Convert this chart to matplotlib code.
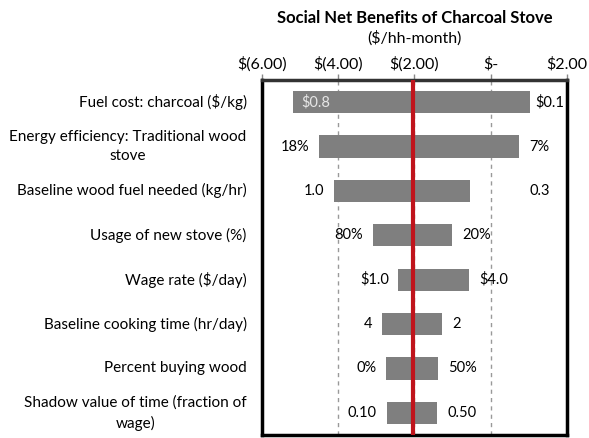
import numpy as np
import matplotlib
matplotlib.use("Agg")
import matplotlib.pyplot as plt
from matplotlib.ticker import FuncFormatter

plt.rcParams['font.family'] = ['Lato', 'DejaVu Sans']

# tornado data, $/hh-month
params = ["Fuel cost: charcoal ($/kg)",
          "Energy efficiency: Traditional wood\nstove",
          "Baseline wood fuel needed (kg/hr)",
          "Usage of new stove (%)",
          "Wage rate ($/day)",
          "Baseline cooking time (hr/day)",
          "Percent buying wood",
          "Shadow value of time (fraction of\nwage)"]
low_val = [-5.18, -4.50, -4.10, -3.10, -2.42, -2.86, -2.75, -2.73]
high_val = [1.03, 0.75, -0.54, -1.01, -0.56, -1.27, -1.37, -1.40]
low_lab = ["$0.8", "18%", "1.0", "80%", "$1.0", "4", "0%", "0.10"]
high_lab = ["$0.1", "7%", "0.3", "20%", "$4.0", "2", "50%", "0.50"]
base_case = -2.05
xticks = [-6, -4, -2, 0, 2]


def money(v, pos=None):
    if abs(v) < 1e-9:
        return "$-"
    if v < 0:
        return f"$({-v:.2f})"
    return f"${v:.2f}"


fig = plt.figure(figsize=(5.89, 4.38), dpi=100)
ax = fig.add_axes([0.4448, 0.0068, 0.5178, 0.8106])

y = np.arange(len(params))
lo = np.array(low_val); hi = np.array(high_val)
ax.barh(y, hi - lo, left=lo, height=0.5, color="#7f7f7f", zorder=2)
ax.axvline(base_case, color="#c0141c", lw=3, zorder=3)

ax.set_xlim(-6, 2)
ax.set_ylim(len(params) - 0.5, -0.5)
ax.set_xticks(xticks)
ax.xaxis.set_major_formatter(FuncFormatter(money))
ax.xaxis.tick_top()
ax.tick_params(axis='x', direction='out', length=4, width=1, color='#888888',
               labelsize=11.5, pad=2)
ax.set_yticks([])
ax.grid(axis='x', ls=(0, (3, 3)), color='#999999', lw=1, zorder=1)
for s in ax.spines.values():
    s.set_linewidth(2.5)
    s.set_color('black')
ax.spines['top'].set_color('#333333')

# parameter names left of the frame
for i, p in enumerate(params):
    ax.annotate(p, (0, i), xycoords=('axes fraction', 'data'), xytext=(-11, 0),
                textcoords='offset points', ha='right', va='center',
                multialignment='center', fontsize=11, linespacing=1.5)

# data labels at bar ends
nudge = {2: 36}
for i in range(len(params)):
    if i == 0:
        ax.annotate(low_lab[i], (lo[i], i), xytext=(6, 0), textcoords='offset points',
                    ha='left', va='center', fontsize=10.5, color='#e6e6e6')
    else:
        ax.annotate(low_lab[i], (lo[i], i), xytext=(-7, 0), textcoords='offset points',
                    ha='right', va='center', fontsize=10.5)
    ax.annotate(high_lab[i], (hi[i], i), xytext=(4 if i == 0 else 7 + nudge.get(i, 0), 0),
                textcoords='offset points', ha='left', va='center', fontsize=10.5)

cx = 0.4448 + 0.5178 / 2
fig.text(cx, 0.958, "Social Net Benefits of Charcoal Stove", ha='center', va='center',
         fontsize=12, fontweight='bold')
fig.text(cx, 0.914, "($/hh-month)", ha='center', va='center', fontsize=11.5)

fig.savefig("out.png", dpi=100)
